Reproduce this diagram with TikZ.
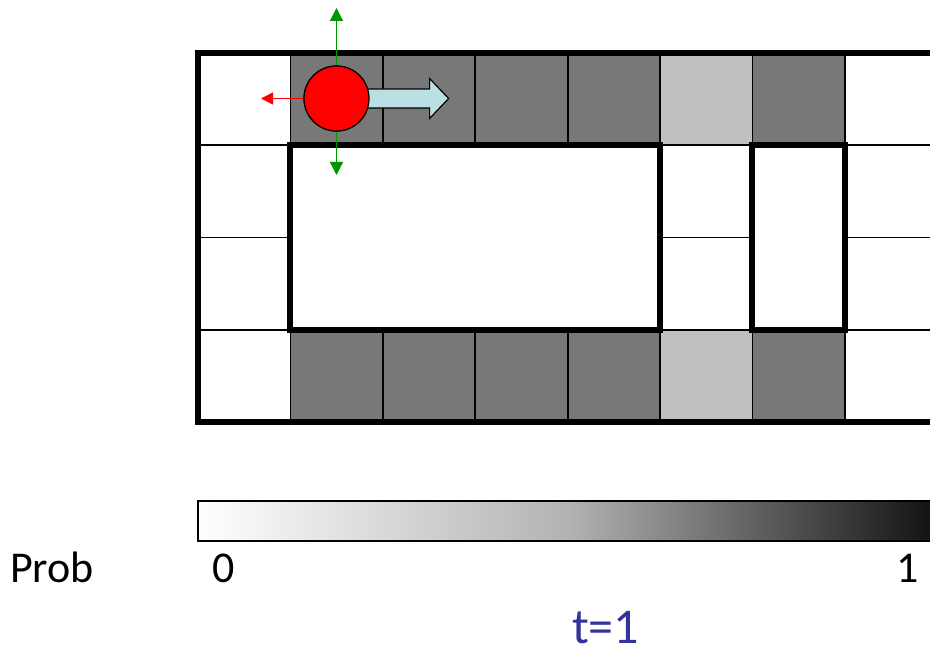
\documentclass[tikz,border=0pt]{standalone}
\usepackage{fontspec}
\setmainfont{Carlito}
\usetikzlibrary{positioning,arrows.meta}
\definecolor{CellDark}{RGB}{120,120,120}
\definecolor{CellLight}{RGB}{192,192,192}
\definecolor{RobotRed}{RGB}{255,0,0}
\definecolor{MoveGreen}{RGB}{0,150,0}
\definecolor{PushCyan}{RGB}{187,224,227}
\definecolor{StepBlue}{RGB}{51,51,153}
\tikzset{
  thinline/.style={draw=black,line width=1.8pt},
  wall/.style={draw=black,line width=6pt,line join=miter},
  robot/.style={circle,draw=black,fill=RobotRed,line width=1.2pt,minimum size=65pt,inner sep=0pt},
  greenmove/.style={draw=MoveGreen,line width=1.3pt,-{Triangle[length=13pt,width=13pt]}},
  redmove/.style={draw=RobotRed,line width=1.3pt,-{Triangle[length=12pt,width=12pt]}},
  pushbody/.style={draw=black,fill=PushCyan,line width=1.2pt,line join=miter},
  lbl/.style={inner sep=0pt,anchor=base west,font=\fontsize{44}{48}\selectfont},
}
\begin{document}
\begin{tikzpicture}[x=1pt,y=-1pt]
        \useasboundingbox (0,0) rectangle (930,655);
        \clip (0,0) rectangle (930,655);
        % shaded cells, top and bottom rows
        \foreach \c/\clr in {1/CellDark,2/CellDark,3/CellDark,4/CellDark,5/CellLight,6/CellDark} {
          \fill[\clr] ({198+\c*92.4},53) rectangle ({198+(\c+1)*92.4},145.25);
          \fill[\clr] ({198+\c*92.4},329.75) rectangle ({198+(\c+1)*92.4},422);
        }
        % thin grid
        \foreach \c in {1,...,7} \draw[thinline] ({198+\c*92.4},53) -- ({198+\c*92.4},422);
        \foreach \r in {1,2,3} \draw[thinline] (198,{53+\r*92.25}) -- (937,{53+\r*92.25});
        % walls
        \draw[wall] (198,53) rectangle (937.2,422);
        \draw[wall,fill=white] (290.4,145.25) rectangle (660,329.75);
        \draw[wall,fill=white] (752.4,145.25) rectangle (844.8,329.75);
        % robot and its moves
        \node[robot] (rob) at (336.5,98.5) {};
        \coordinate (upEnd) at (336.5,8);
        \coordinate (downEnd) at (336.5,175);
        \coordinate (leftEnd) at (261,98.5);
        \begin{scope}[shift={(rob.east)}]
          \draw[pushbody] (-3,-9.5) -- (60,-9.5) -- (60,-20) -- (79,0) -- (60,20) -- (60,9.5) -- (-3,9.5);
        \end{scope}
        \node[robot] at (rob) {};
        \draw[greenmove] (rob.north) -- (upEnd);
        \draw[greenmove] (rob.south) -- (downEnd);
        \draw[redmove] (rob.west) -- (leftEnd);
        % colour bar
        \shade[left color=white,right color=black!94,middle color=black!30] (198,501) rectangle (940,541);
        \draw[line width=1.6pt] (940,501) -- (198,501) -- (198,541) -- (940,541);
        \node[lbl] (prob) at (10,582) {Prob};
        \node[lbl] (zero) at (212,582) {0};
        \node[lbl] (one) at (896,582) {1};
        \node[lbl,text=StepBlue,font=\fontsize{50}{54}\selectfont] (tstep) at (572,643) {t=1};
      \end{tikzpicture}
\end{document}
